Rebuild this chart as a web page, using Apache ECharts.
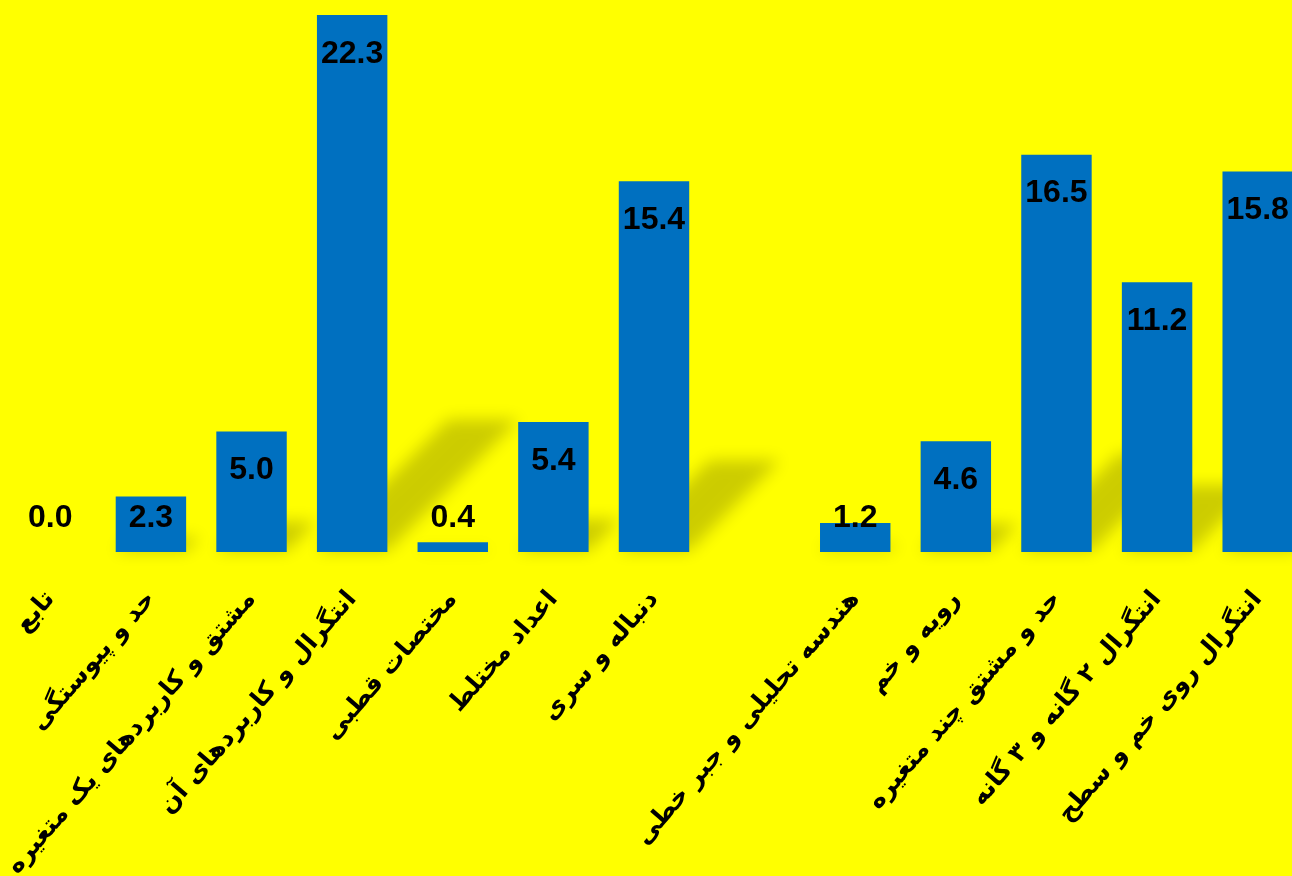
<!DOCTYPE html>
<html>
<head>
<meta charset="utf-8">
<style>
html,body{margin:0;padding:0;background:#FFFF00;}
#chart{width:1292px;height:876px;}
</style>
<script src="https://cdn.jsdelivr.net/npm/echarts@6/dist/echarts.min.js"></script>
</head>
<body>
<div id="chart"></div>
<script>
const categories = [
  'تابع',
  'حد و پیوستگی',
  'مشتق و کاربردهای یک متغیره',
  'انتگرال و کاربردهای آن',
  'مختصات قطبی',
  'اعداد مختلط',
  'دنباله و سری',
  '',
  'هندسه تحلیلی و جبر خطی',
  'رویه و خم',
  'حد و مشتق چند متغیره',
  'انتگرال ۲ گانه و ۳ گانه',
  'انتگرال روی خم و سطح'
];
const values = [0.0, 2.3, 5.0, 22.3, 0.4, 5.4, 15.4, null, 1.2, 4.6, 16.5, 11.2, 15.8];

const BAR_RATIO = 0.7;
const chart = echarts.init(document.getElementById('chart'));
const barData = values.map(v => {
  if (v === null) return '-';
  const small = v < 3;
  return {
    value: v,
    label: small
      ? { position: 'insideBottom', distance: 18 }
      : { position: 'insideTop', distance: 23 }
  };
});
const shadowData = values.map((v, i) => [i, v === null ? 0 : v]);

chart.setOption({
  backgroundColor: '#FFFF00',
  animation: false,
  grid: { left: 0, top: 15, width: 1308, height: 537, containLabel: false, outerBoundsMode: 'none' },
  xAxis: {
    type: 'category',
    data: categories,
    axisLine: { show: false },
    axisTick: { show: false },
    axisLabel: {
      interval: 0,
      rotate: 49,
      margin: 43,
      color: '#000',
      fontFamily: 'DejaVu Sans',
      fontWeight: 'bold',
      fontSize: 25
    }
  },
  yAxis: {
    type: 'value',
    min: 0,
    max: 22.3,
    show: false,
    splitLine: { show: false }
  },
  series: [{
    type: 'custom',
    z: 1,
    silent: true,
    clip: false,
    data: shadowData,
    renderItem: function (params, api) {
      const v = api.value(1);
      if (!v) return null;
      const base = api.coord([api.value(0), 0]);
      const top = api.coord([api.value(0), v]);
      const bw = api.size([1, 0])[0] * BAR_RATIO;
      const h = base[1] - top[1];
      const sh = h * 0.245;
      const x0 = base[0] - bw / 2, x1 = base[0] + bw / 2, y0 = base[1] - 1;
      const OFF = 3000;
      return {
        type: 'polygon',
        shape: { points: [
          [x0, y0 - OFF], [x1, y0 - OFF],
          [x1 + sh, y0 - sh - OFF], [x0 + sh, y0 - sh - OFF]
        ] },
        style: {
          fill: '#000',
          shadowBlur: 16,
          shadowColor: 'rgba(0,0,0,0.2)',
          shadowOffsetX: 0,
          shadowOffsetY: OFF
        }
      };
    }
  }, {
    type: 'bar',
    z: 2,
    data: barData,
    barWidth: (BAR_RATIO * 100) + '%',
    itemStyle: { color: '#0070C0' },
    label: {
      show: true,
      formatter: p => p.value.toFixed(1),
      color: '#000',
      fontFamily: "'Liberation Sans', sans-serif",
      fontWeight: 'bold',
      fontSize: 32
    }
  }]
});
</script>
</body>
</html>
